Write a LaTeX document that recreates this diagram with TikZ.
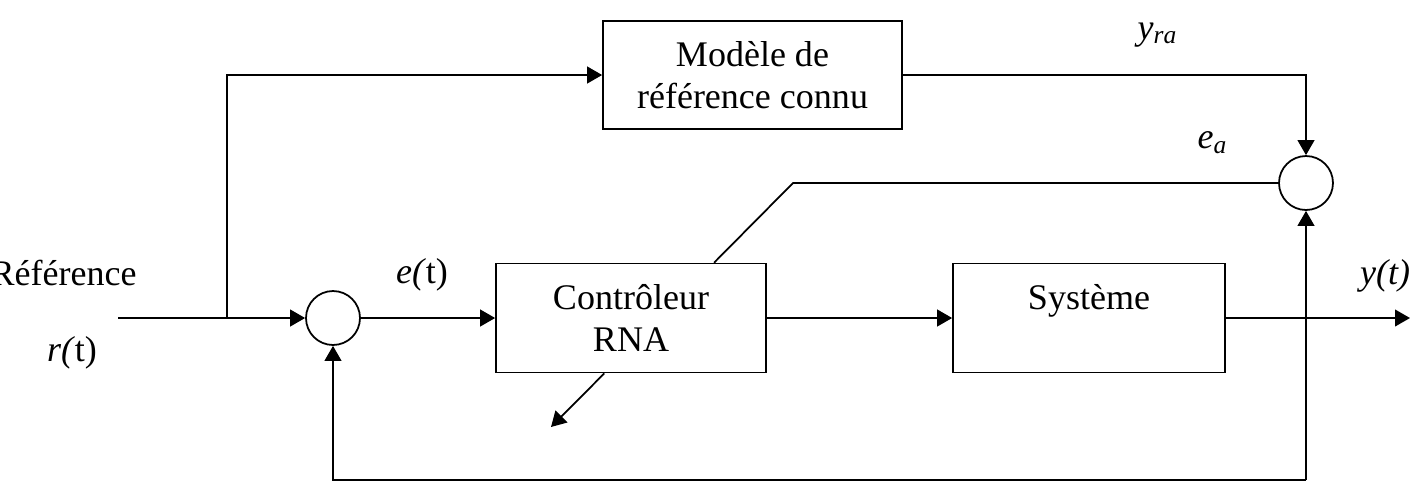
\documentclass[tikz,border=0pt]{standalone}
\usepackage{fontspec}
\setmainfont{Liberation Serif}
\usetikzlibrary{arrows.meta,calc}
\begin{document}
\begin{tikzpicture}[x=0.02cm,y=-0.02cm,
  every node/.style={font=\fontsize{20.5}{24}\selectfont},
  blk/.style={draw,line width=1pt,fill=white,inner sep=0pt,align=center},
  sumnode/.style={draw,circle,line width=1pt,fill=white,inner sep=0pt,minimum size=1.08cm},
  conn/.style={line width=1pt},
  thin conn/.style={line width=0.6pt},
  arr/.style={line width=1pt,-{Triangle[length=8.5pt,width=9.5pt]}},
  lbl/.style={inner sep=0pt}]
\useasboundingbox (0,0) rectangle (1418,485);
% blocks
\node[blk,minimum width=5.98cm,minimum height=2.16cm] (model) at (752.5,75) {Modèle de\\référence connu};
\node[blk,minimum width=5.4cm,minimum height=2.18cm] (ctrl) at (631,318) {Contrôleur\\RNA};
\node[blk,minimum width=5.44cm,minimum height=2.18cm] (sys) at (1089,318) {Système\\\mbox{}};
\node[sumnode] (s1) at (333,318) {};
\node[sumnode] (s2) at (1306,183) {};
% coordinates
\coordinate (in) at (118,318);
\coordinate (thk) at (172,318);
\coordinate (br) at (227,318);
\coordinate (d1) at (793,183);
\coordinate (d2) at (551,427);
\coordinate (out) at (1410,318);
\coordinate (fb) at (1306,480);
% labels
\node[lbl,anchor=east] (lref) at (137,273) {Référence};
\node[lbl] (lr) at (72,353) {\textit{r(}t)};
\node[lbl] (le) at (422,275) {\textit{e(}t)};
\node[lbl] (ly) at (1385,276) {\textit{y(t)}};
\node[lbl] (lyra) at (1157,35) {\textit{y}\raisebox{-0.25ex}{\fontsize{14.5}{16}\selectfont\textit{ra}}};
\node[lbl] (lea) at (1212,143) {\textit{e}\raisebox{-0.3ex}{\fontsize{14.5}{16}\selectfont\textit{a}}};
% connectors
\draw[thin conn] (in) -- (thk);
\draw[arr] (thk) -- (s1.west);
\draw[arr] (br) |- (model.west);
\draw[arr] (model.east) -| (s2.north);
\draw[arr] (s1.east) -- (ctrl.west);
\draw[arr] (ctrl.east) -- (sys.west);
\draw[arr] (sys.east) -- (out);
\draw[arr] (fb) -- (s2.south);
\draw[arr] (fb) -| (s1.south);
\draw[conn] (s2.west) -- (d1) -- (intersection of d1--d2 and ctrl.north west--ctrl.north east);
\draw[arr] (intersection of d1--d2 and ctrl.south west--ctrl.south east) -- (d2);
\end{tikzpicture}
\end{document}
